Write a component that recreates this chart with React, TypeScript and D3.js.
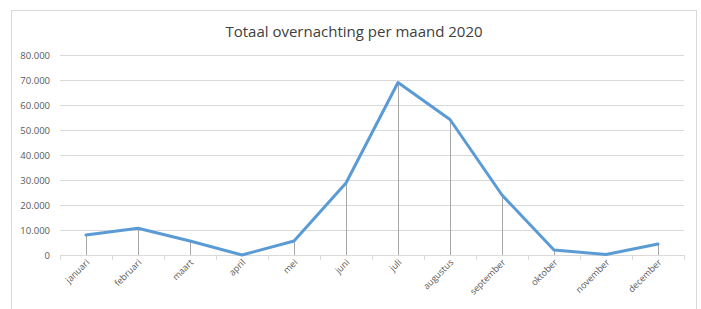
import React from "react";
import * as d3 from "d3";

const months = ["januari","februari","maart","april","mei","juni","juli","augustus","september","oktober","november","december"];
const values = [8000, 10700, 5600, 0, 5600, 28800, 69000, 54200, 24000, 2000, 200, 4400];
const yTicks = [0, 10000, 20000, 30000, 40000, 50000, 60000, 70000, 80000];
const title = "Totaal overnachting per maand 2020";

const W = 701, H = 309;
const left = 60, right = 684, top = 55, bottom = 255;

export default function App() {
  const x = d3.scaleBand<string>().domain(months).range([left, right]);
  const y = d3.scaleLinear().domain([0, 80000]).range([bottom, top]);
  const fmt = (v: number) => v === 0 ? "0" : d3.format(",")(v).replace(/,/g, ".");
  const cx = (m: string) => (x(m) as number) + x.bandwidth() / 2;
  const line = d3.line<number>().x((_, i) => cx(months[i])).y(d => y(d));
  const font = "'Open Sans', 'Liberation Sans', sans-serif";
  return (
    <svg width={W} height={H} style={{ position: "absolute", left: 0, top: 0, background: "#fff" }}>
      <rect x={11.5} y={10.5} width={685} height={310} fill="#fff" stroke="#d9d9d9" />
      <text x={354} y={37} textAnchor="middle" fontFamily={font} fontSize={15} fill="#404040">{title}</text>
      {yTicks.map(t => (
        <g key={t}>
          {t > 0 && <line x1={left} x2={right} y1={Math.round(y(t)) + 0.5} y2={Math.round(y(t)) + 0.5} stroke="#d9d9d9" />}
          <text x={50} y={y(t) + 3.5} textAnchor="end" fontFamily={font} fontSize={9.5} fill="#595959">{fmt(t)}</text>
        </g>
      ))}
      <line x1={left} x2={right} y1={bottom + 0.5} y2={bottom + 0.5} stroke="#d9d9d9" />
      {months.map((m) => (
        <line key={"t" + m} x1={Math.round(x(m) as number) + 0.5} x2={Math.round(x(m) as number) + 0.5} y1={bottom} y2={bottom + 5} stroke="#d9d9d9" />
      ))}
      <line x1={right + 0.5} x2={right + 0.5} y1={bottom} y2={bottom + 5} stroke="#d9d9d9" />
      {months.map((m, i) => (
        <line key={"d" + m} x1={Math.round(cx(m)) + 0.5} x2={Math.round(cx(m)) + 0.5} y1={y(values[i])} y2={bottom} stroke="#a6a6a6" strokeWidth={1} />
      ))}
      <path d={line(values) as string} fill="none" stroke="#5b9bd5" strokeWidth={3} strokeLinejoin="round" strokeLinecap="round" />
      {months.map(m => (
        <text key={"l" + m} transform={`translate(${cx(m) + 4},${bottom + 8}) rotate(-45)`} textAnchor="end" fontFamily={font} fontSize={9} fill="#595959">{m}</text>
      ))}
    </svg>
  );
}
